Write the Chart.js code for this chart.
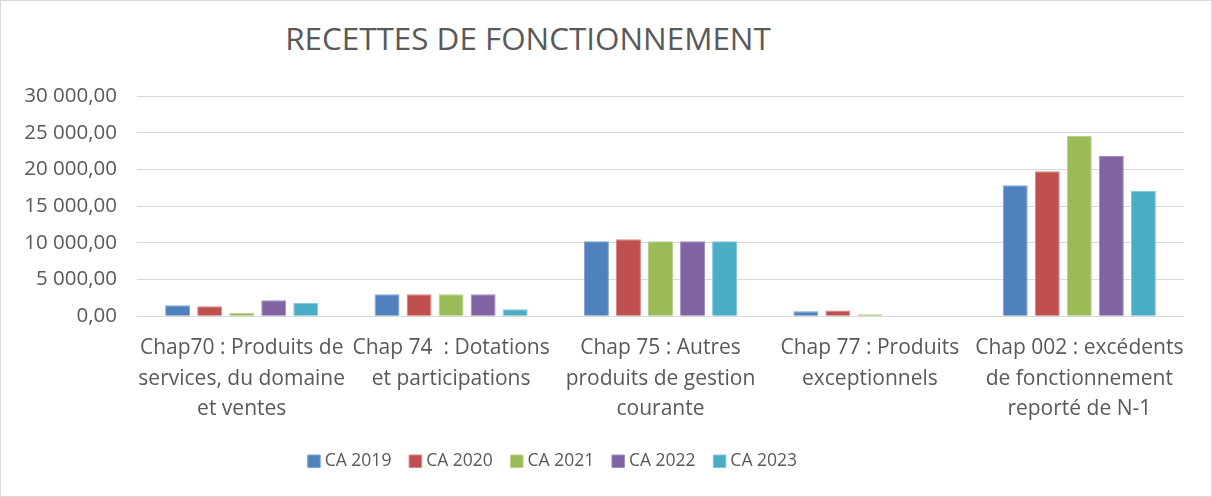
<!DOCTYPE html>
<html lang="fr">
<head>
<meta charset="utf-8">
<script src="https://cdn.jsdelivr.net/npm/chart.js@4"></script>
<style>
    html, body { margin: 0; padding: 0; background: #fff; }
    #frame {
        position: relative;
        width: 1212px;
        height: 497px;
        box-sizing: border-box;
        border: 1px solid #d9d9d9;
    }
    #title {
        position: absolute;
        top: 15px;
        left: 0;
        width: 1054px;
        text-align: center;
        font-family: 'Open Sans', sans-serif;
        font-size: 31.4px;
        color: #595959;
    }
    #chartBox { position: absolute; left: 0; top: 0; width: 1210px; height: 495px; }
</style>
</head>
<body>
<div id="frame">
    <div id="title">RECETTES DE FONCTIONNEMENT</div>
    <div id="chartBox"><canvas id="chart"></canvas></div>
</div>
<script>
// catégories (axe X)
const categories = [
    ['Chap70 : Produits de', 'services, du domaine', 'et ventes'],
    ['Chap 74  : Dotations', 'et participations'],
    ['Chap 75 : Autres', 'produits de gestion', 'courante'],
    ['Chap 77 : Produits', 'exceptionnels'],
    ['Chap 002 : excédents', 'de fonctionnement', 'reporté de N-1']
];

// séries
const seriesNames = ['CA 2019', 'CA 2020', 'CA 2021', 'CA 2022', 'CA 2023'];
const ca2019 = [1500, 3000, 10220, 680, 17850];
const ca2020 = [1360, 3000, 10490, 770, 19750];
const ca2021 = [450, 3000, 10220, 270, 24550];
const ca2022 = [2180, 3000, 10220, 0, 21830];
const ca2023 = [1810, 950, 10220, 0, 17080];

// graduations
const yTicks = [0, 5000, 10000, 15000, 20000, 25000, 30000];

const colors = ['#4F81BD', '#C0504D', '#9BBB59', '#8064A2', '#4BACC6'];
const edges = ['#7FA3D3', '#D68583', '#B9D18A', '#A08CBE', '#7FC6D8'];

// format "30 000,00"
function formatFr(v) {
    const parts = Math.round(v).toString().replace(/\B(?=(\d{3})+(?!\d))/g, ' ');
    return parts + ',00';
}

const allSeries = [ca2019, ca2020, ca2021, ca2022, ca2023];
const datasets = allSeries.map((vals, i) => ({
    label: seriesNames[i],
    data: vals,
    backgroundColor: colors[i],
    borderColor: edges[i],
    borderWidth: 1,
    barPercentage: 0.78,
    categoryPercentage: 0.765
}));

const family = "'Open Sans', sans-serif";

// la légende n'est pas centrée sur le graphique dans l'original : on la décale
const legendShift = {
    id: 'legendShift',
    afterLayout(chart) {
        const lg = chart.legend;
        if (!lg) return;
        lg.left -= 38; lg.right -= 38;
        lg.top -= 3; lg.bottom -= 3;
    }
};

new Chart(document.getElementById('chart'), {
    type: 'bar',
    data: { labels: categories, datasets: datasets },
    plugins: [legendShift],
    options: {
        responsive: true,
        maintainAspectRatio: false,
        animation: false,
        layout: { padding: { top: 95, right: 27, left: 0, bottom: 13 } },
        plugins: {
            title: { display: false },
            tooltip: { enabled: false },
            legend: {
                position: 'bottom',
                labels: {
                    color: '#595959',
                    font: { family: family, size: 17.5 },
                    usePointStyle: true,
                    pointStyle: 'rect',
                    boxWidth: 4,
                    boxHeight: 12.5,
                    padding: 22
                }
            }
        },
        scales: {
            x: {
                grid: { display: false },
                border: { display: false },
                ticks: {
                    color: '#595959',
                    font: { family: family, size: 21, lineHeight: 1.45 },
                    maxRotation: 0,
                    autoSkip: false,
                    padding: 9
                }
            },
            y: {
                min: 0,
                max: 30000,
                afterFit: s => { s.width = 136; },
                afterBuildTicks: s => { s.ticks = yTicks.map(v => ({ value: v })); },
                grid: { color: '#d9d9d9', lineWidth: 1, drawTicks: false },
                border: { display: false },
                ticks: {
                    color: '#595959',
                    font: { family: family, size: 20.5 },
                    padding: 20,
                    callback: v => formatFr(v)
                }
            }
        }
    }
});
</script>
</body>
</html>
